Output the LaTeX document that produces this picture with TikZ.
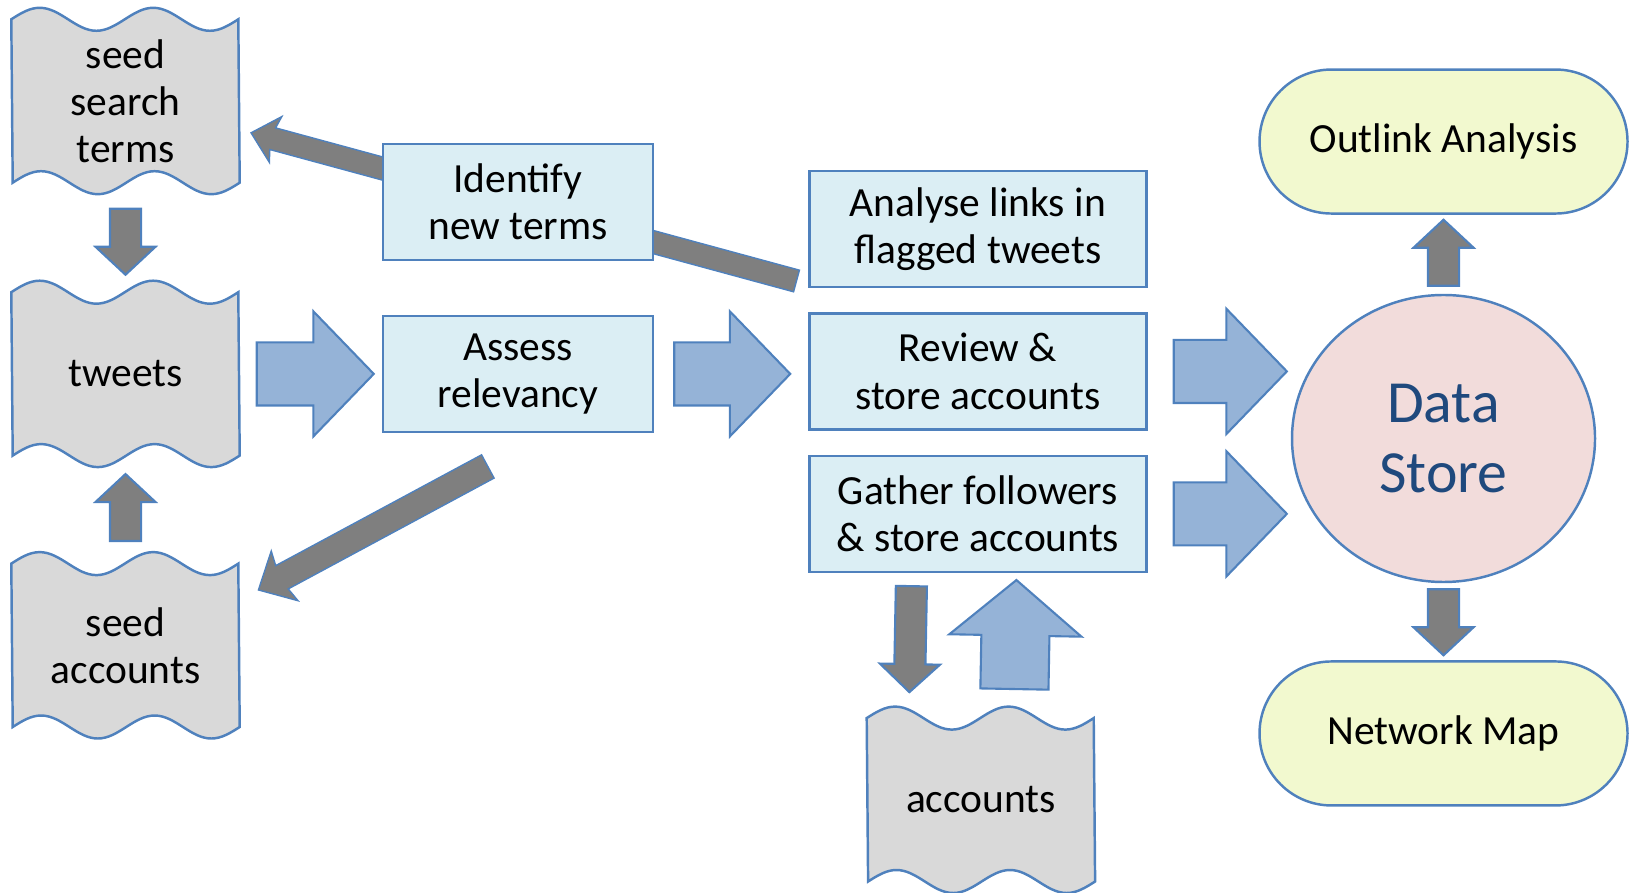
\documentclass[tikz,border=0pt]{standalone}
\usepackage{fontspec}
\setmainfont{Carlito}
\usetikzlibrary{shapes,arrows,positioning,backgrounds,calc}

\definecolor{lineblue}{HTML}{4F81BD}
\definecolor{docgray}{HTML}{D9D9D9}
\definecolor{boxblue}{HTML}{DBEEF4}
\definecolor{arrowblue}{HTML}{95B3D7}
\definecolor{arrowgray}{HTML}{7F7F7F}
\definecolor{storepink}{HTML}{F2DCDB}
\definecolor{storetext}{HTML}{1F497D}
\definecolor{endyellow}{HTML}{F2F9CF}

% punched tape outline, two sine periods on top and bottom
\newcommand{\wavestep}{0.28375}
\newcommand{\waveamp}{0.115}
\newcommand{\wavedoc}[1]{%
  \path[docline] (#1.north west)
    \foreach \i in {1,2} {sin ++(\wavestep,\waveamp) cos ++(\wavestep,-\waveamp)
                          sin ++(\wavestep,-\waveamp) cos ++(\wavestep,\waveamp)}
    -- (#1.south east)
    \foreach \i in {1,2} {sin ++(-\wavestep,-\waveamp) cos ++(-\wavestep,\waveamp)
                          sin ++(-\wavestep,\waveamp) cos ++(-\wavestep,-\waveamp)}
    -- cycle;}

% fat arrow from one point to another
\newcommand{\blockarrow}[4][]{%
  \path let \p1=#3, \p2=#4,
    \n1={atan2(\y2-\y1,\x2-\x1)}, \n2={veclen(\x2-\x1,\y2-\y1)} in
    node[#1, anchor=tail, rotate=\n1, minimum height=\n2] (#2) at (\p1) {};}

\tikzset{%
docnode/.style={rectangle, minimum width=2.27cm, minimum height=1.62cm, inner sep=0pt, align=center},
docline/.style={draw=lineblue, fill=docgray, line width=0.7pt},
procnode/.style={rectangle, draw=lineblue, fill=boxblue, line width=0.7pt, minimum height=1.16cm, inner sep=0pt, align=center},
storenode/.style={ellipse, draw=lineblue, fill=storepink, line width=0.7pt, minimum width=3.03cm, minimum height=2.87cm, inner sep=0pt, align=center, text=storetext, font=\fontsize{17}{20}\selectfont},
endnode/.style={rounded rectangle, draw=lineblue, fill=endyellow, line width=0.7pt, minimum width=3.68cm, minimum height=1.44cm, inner sep=0pt},
% shaft width = 2 x inner ysep
blockarr/.style={single arrow, draw=lineblue, line width=0.6pt, inner xsep=0pt, single arrow head indent=0pt},
bluearr/.style={blockarr, fill=arrowblue, inner ysep=0.305cm, single arrow head extend=0.31cm, single arrow tip angle=92},
grayarr/.style={blockarr, fill=arrowgray, inner ysep=0.145cm, single arrow head extend=0.145cm, single arrow tip angle=94},
grayline/.style={blockarr, fill=arrowgray, line width=0.4pt, inner ysep=0.105cm, single arrow head extend=0.125cm, single arrow tip angle=86, single arrow head indent=0.03cm}
}

\begin{document}
\begin{tikzpicture}[font=\fontsize{11.8}{13.4}\selectfont]
	\useasboundingbox (0,0) rectangle (16.29,8.92);

	% left column: inputs
	\node[docnode] (seedterms) at (1.255,7.91) {seed\\search\\terms};
	\node[docnode, below=1.095cm of seedterms] (tweets) {tweets};
	\node[docnode, below=1.08cm of tweets] (seedaccts) {seed\\accounts};

	% processing steps
	\node[procnode, minimum width=2.70cm, right=1.42cm of tweets] (assess) {Assess\\relevancy};
	\node[procnode, minimum width=2.70cm, above=0.535cm of assess] (identify) {Identify\\new terms};
	\node[procnode, minimum width=3.37cm, right=1.54cm of assess, yshift=0.025cm] (review) {Review \&\\store accounts};
	\node[procnode, minimum width=3.37cm, above=0.24cm of review] (analyse) {Analyse links in\\flagged tweets};
	\node[procnode, minimum width=3.37cm, below=0.24cm of review] (gather) {Gather followers\\\& store accounts};
	\node[docnode, below=1.45cm of gather, xshift=0.03cm] (accounts) {accounts};

	% storage and outputs
	\node[storenode] (store) at (14.435,4.535) {Data\\Store};
	\node[endnode, above=0.79cm of store] (outlink) {Outlink Analysis};
	\node[endnode, below=0.77cm of store] (netmap) {Network Map};

	\begin{pgfonlayer}{background}
		\foreach \n in {seedterms,tweets,seedaccts,accounts} {\wavedoc{\n}}
		\blockarrow[grayline]{back1}{($(analyse.south west)+(-0.11,0.07)$)}{($(seedterms.east)+(0.12,-0.32)$)}
		\blockarrow[grayline, inner ysep=0.125cm, single arrow head extend=0.15cm, single arrow tip angle=87]{back2}{($(assess.south)+(-0.295,-0.33)$)}{($(seedaccts.east)+(0.19,0.555)$)}
	\end{pgfonlayer}

	% main flow
	\blockarrow[bluearr]{a1}{($(tweets.east)+(0.16,0)$)}{($(assess.west)+(-0.09,0)$)}
	\blockarrow[bluearr]{a2}{($(assess.east)+(0.19,0)$)}{($(review.west |- assess.east)+(-0.19,0)$)}
	\blockarrow[bluearr]{a3}{($(review.east)+(0.25,0)$)}{($(store.west |- review.east)+(-0.05,0)$)}
	\blockarrow[bluearr]{a4}{($(gather.east)+(0.25,0)$)}{($(store.west |- gather.east)+(-0.05,0)$)}
	\blockarrow[bluearr, inner ysep=0.33cm, single arrow head extend=0.32cm, single arrow tip angle=100]{a5}{($(accounts.north)+(0.335,0.28)$)}{($(gather.south)+(0.385,-0.08)$)}

	\blockarrow[grayarr]{g1}{($(seedterms.south)+(0,-0.25)$)}{($(tweets.north)+(0,0.185)$)}
	\blockarrow[grayarr]{g2}{($(seedaccts.north)+(0,0.215)$)}{($(tweets.south)+(0,-0.195)$)}
	\blockarrow[grayarr]{g3}{($(gather.south)+(-0.665,-0.12)$)}{($(accounts.north)+(-0.715,0.27)$)}
	\blockarrow[grayarr]{g4}{($(store.north)+(0,0.07)$)}{($(outlink.south)+(0,-0.06)$)}
	\blockarrow[grayarr]{g5}{($(store.south)+(0,-0.05)$)}{($(netmap.north)+(0,0.06)$)}
\end{tikzpicture}
\end{document}
